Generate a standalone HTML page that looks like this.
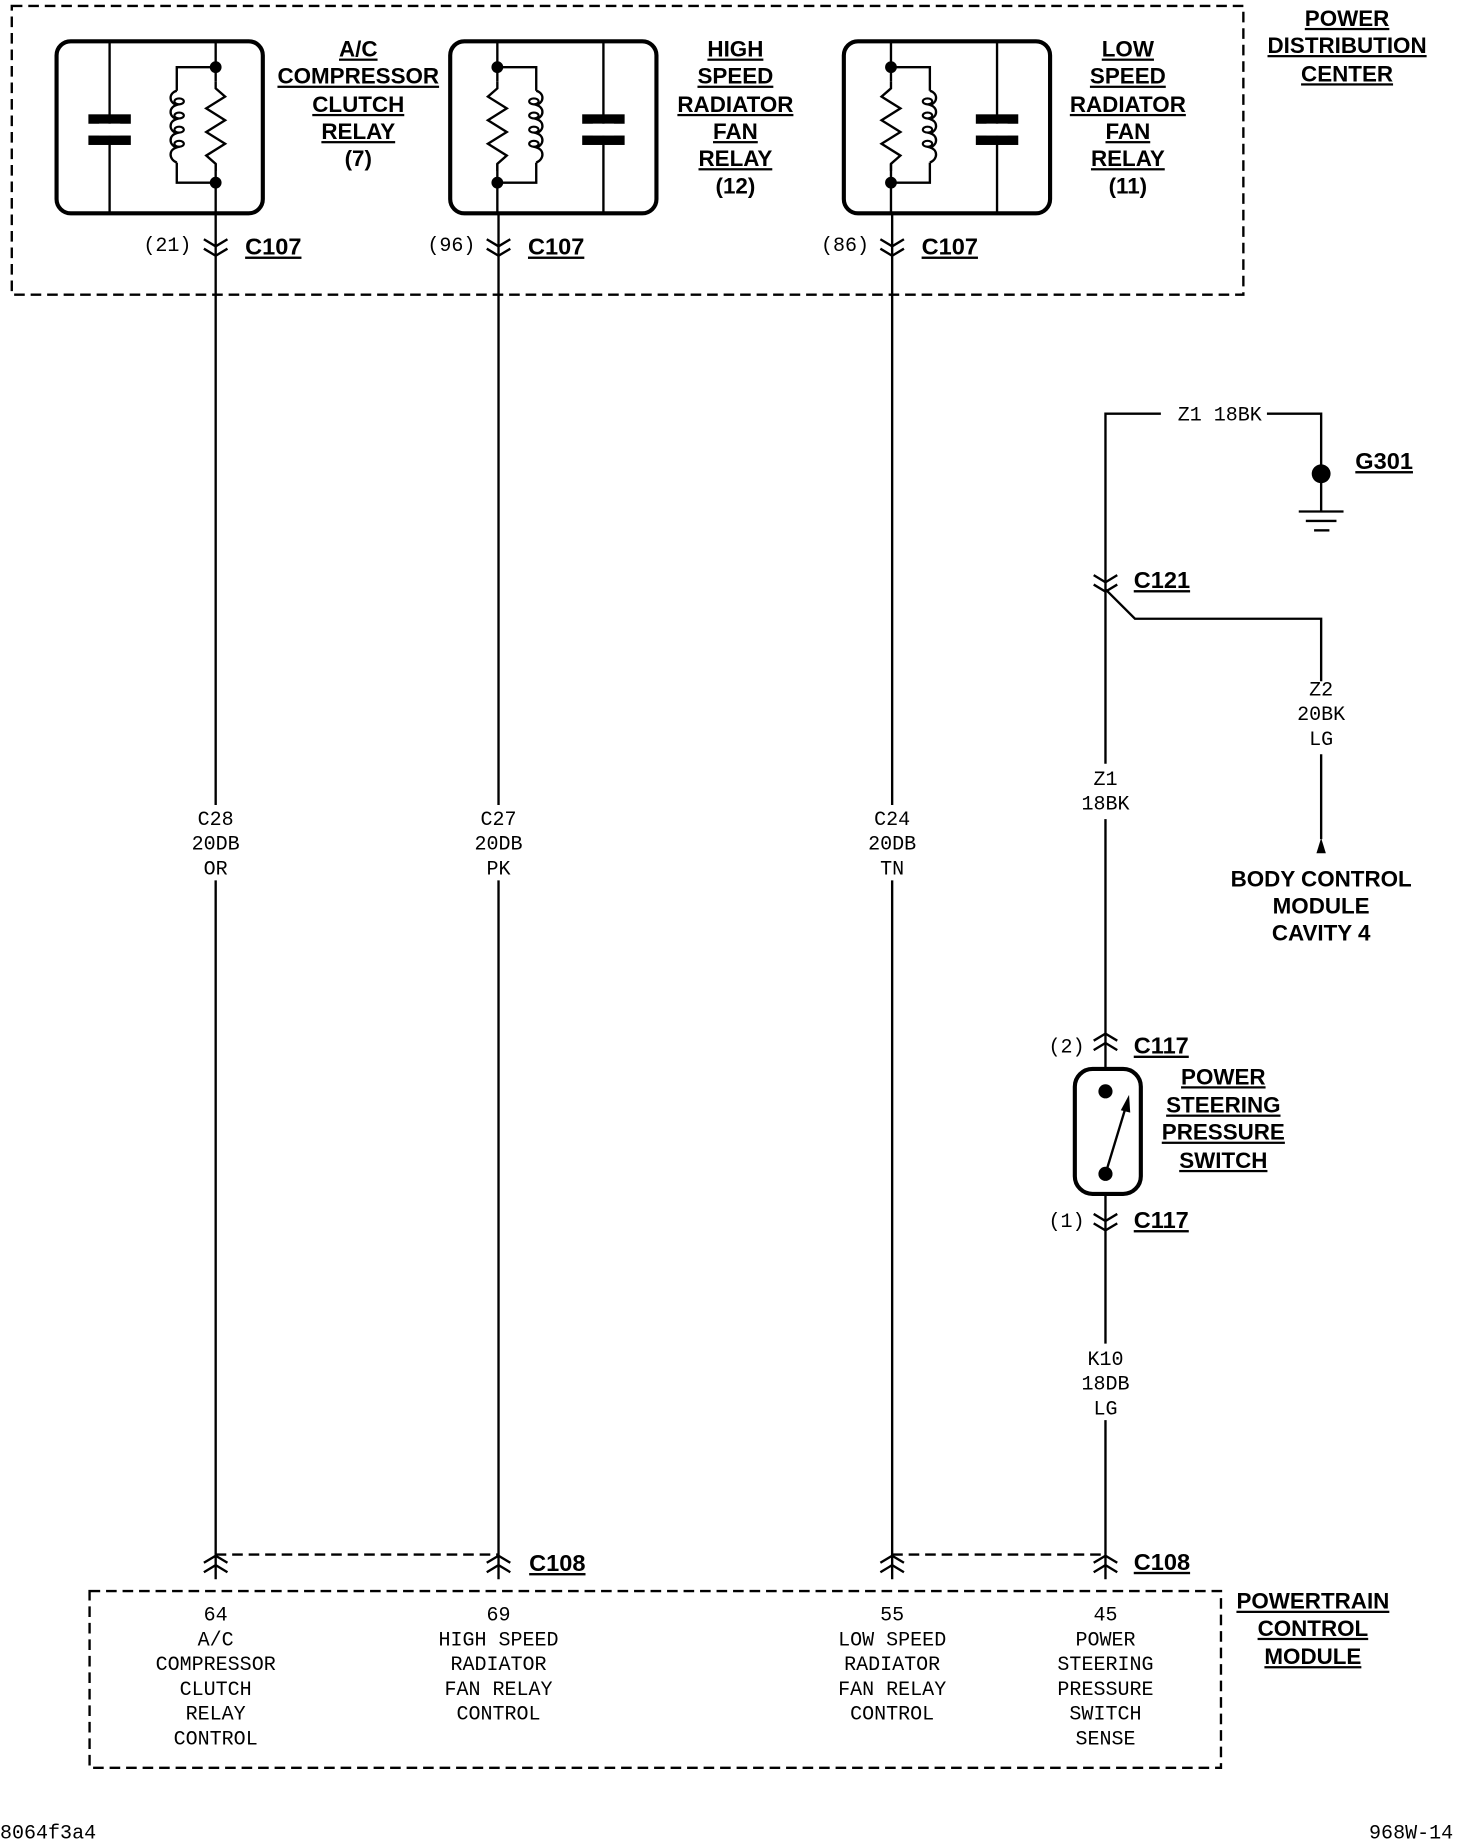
<!DOCTYPE html>
<html><head><meta charset="utf-8"><style>
html,body{margin:0;padding:0;background:#fff}
svg{display:block}
.b{font-family:"Liberation Sans Narrow","Liberation Sans",sans-serif;font-weight:bold;font-size:19px;text-anchor:middle;text-decoration:underline}
.bn{font-family:"Liberation Sans Narrow","Liberation Sans",sans-serif;font-weight:bold;font-size:19px;text-anchor:middle}
.m{font-family:"Liberation Mono",monospace;font-size:17px;text-anchor:middle}
.c{font-family:"Liberation Sans Narrow","Liberation Sans",sans-serif;font-weight:bold;font-size:20px;text-decoration:underline}
</style></head><body>
<svg width="1472" height="1848" viewBox="0 0 1249 1568" preserveAspectRatio="none" xmlns="http://www.w3.org/2000/svg">
<defs>
<g id="relay" fill="none" stroke="#000">
<rect x="0" y="0" width="175" height="146" rx="12" stroke-width="3.5"/>
<line x1="45" y1="0" x2="45" y2="146" stroke-width="2"/>
<rect x="27" y="62" width="36" height="8" fill="#000" stroke="none"/>
<rect x="27" y="80" width="36" height="8" fill="#000" stroke="none"/>
<rect x="36" y="70" width="18" height="10" fill="#fff" stroke="none"/>
<line x1="135" y1="0" x2="135" y2="146" stroke-width="2"/>
<rect x="128" y="34" width="14" height="70" fill="#fff" stroke="none"/>
<polyline points="135,34 135,40 143,47 127,57 143,67 127,77 143,87 127,97 135,104 135,110" stroke-width="2"/>
<polyline points="135,22 102,22 102,42" stroke-width="2"/>
<polyline points="135,120 102,120 102,103" stroke-width="2"/>
<path d="M102,42 C95,44 95,52 102,54 C95,56 95,64 102,66 C95,68 95,76 102,78 C95,80 95,88 102,90 C95,92 95,100 102,103" stroke-width="2"/>
<ellipse cx="104" cy="51" rx="4" ry="2.5" stroke-width="1.8"/>
<ellipse cx="104" cy="63" rx="4" ry="2.5" stroke-width="1.8"/>
<ellipse cx="104" cy="75" rx="4" ry="2.5" stroke-width="1.8"/>
<ellipse cx="104" cy="87" rx="4" ry="2.5" stroke-width="1.8"/>
<circle cx="135" cy="22" r="5" fill="#000" stroke="none"/>
<circle cx="135" cy="120" r="5" fill="#000" stroke="none"/>
</g>
<g id="vdn" fill="none" stroke="#000" stroke-width="2"><polyline points="-10,-6 0,0 10,-6"/><polyline points="-10,2 0,8 10,2"/></g>
<g id="vup" fill="none" stroke="#000" stroke-width="2"><polyline points="-10,6 0,0 10,6"/><polyline points="-10,14 0,8 10,14"/></g>
</defs>
<g fill="none" stroke="#000" stroke-width="2" stroke-dasharray="9,5">
<rect x="10" y="5" width="1045" height="245"/>
<rect x="76" y="1350" width="960" height="150"/>
<polyline points="183,1319 423,1319"/>
<polyline points="757,1319 938,1319"/>
</g>
<use href="#relay" x="48" y="35"/>
<use href="#relay" transform="translate(557,35) scale(-1,1)"/>
<use href="#relay" transform="translate(891,35) scale(-1,1)"/>
<g stroke="#000" stroke-width="2" fill="none">
<line x1="183" y1="181" x2="183" y2="683"/><line x1="183" y1="747" x2="183" y2="1340"/>
<line x1="423" y1="181" x2="423" y2="683"/><line x1="423" y1="747" x2="423" y2="1340"/>
<line x1="757" y1="181" x2="757" y2="683"/><line x1="757" y1="747" x2="757" y2="1340"/>
<polyline points="985,351 938,351 938,648"/>
<polyline points="1075,351 1121,351 1121,434"/>
<line x1="938" y1="695" x2="938" y2="907"/>
<line x1="938" y1="1013" x2="938" y2="1140"/>
<line x1="938" y1="1205" x2="938" y2="1340"/>
<polyline points="938,500 963,525 1121,525 1121,578"/>
<line x1="1121" y1="640" x2="1121" y2="712"/>
<line x1="1102" y1="434" x2="1140" y2="434"/>
<line x1="1108" y1="442" x2="1134" y2="442"/>
<line x1="1115" y1="450" x2="1128" y2="450"/>
<rect x="912" y="907" width="56" height="106" rx="15" stroke-width="3.5"/>
<line x1="938" y1="996" x2="955" y2="940"/>
</g>
<polygon points="958,929 951,942 959,944" fill="#000"/>
<polygon points="1121,711 1117,724 1125,724" fill="#000"/>
<circle cx="1121" cy="402" r="8" fill="#000"/>
<circle cx="938" cy="926" r="6" fill="#000"/>
<circle cx="938" cy="996" r="6" fill="#000"/>
<use href="#vdn" x="183" y="209"/><use href="#vdn" x="423" y="209"/><use href="#vdn" x="757" y="209"/>
<use href="#vdn" x="938" y="494"/><use href="#vdn" x="938" y="1036"/>
<use href="#vup" x="938" y="877"/>
<use href="#vup" x="183" y="1320"/><use href="#vup" x="423" y="1320"/><use href="#vup" x="757" y="1320"/><use href="#vup" x="938" y="1320"/>
<g class="b">
<text x="304" y="48">A/C</text><text x="304" y="71">COMPRESSOR</text><text x="304" y="95">CLUTCH</text><text x="304" y="118">RELAY</text>
<text x="624" y="48">HIGH</text><text x="624" y="71">SPEED</text><text x="624" y="95">RADIATOR</text><text x="624" y="118">FAN</text><text x="624" y="141">RELAY</text>
<text x="957" y="48">LOW</text><text x="957" y="71">SPEED</text><text x="957" y="95">RADIATOR</text><text x="957" y="118">FAN</text><text x="957" y="141">RELAY</text>
<text x="1143" y="22">POWER</text><text x="1143" y="45">DISTRIBUTION</text><text x="1143" y="69">CENTER</text>
<text x="1038" y="920">POWER</text><text x="1038" y="944">STEERING</text><text x="1038" y="967">PRESSURE</text><text x="1038" y="991">SWITCH</text>
<text x="1114" y="1365">POWERTRAIN</text><text x="1114" y="1388">CONTROL</text><text x="1114" y="1412">MODULE</text>
</g>
<g class="bn">
<text x="304" y="141">(7)</text><text x="624" y="164">(12)</text><text x="957" y="164">(11)</text>
<text x="1121" y="752">BODY CONTROL</text><text x="1121" y="775">MODULE</text><text x="1121" y="798">CAVITY 4</text>
</g>
<g class="c">
<text x="208" y="216">C107</text><text x="448" y="216">C107</text><text x="782" y="216">C107</text>
<text x="1150" y="398">G301</text><text x="962" y="499">C121</text>
<text x="962" y="894">C117</text><text x="962" y="1042">C117</text>
<text x="449" y="1333">C108</text><text x="962" y="1332">C108</text>
</g>
<g class="m">
<text x="142" y="213">(21)</text><text x="383" y="213">(96)</text><text x="717" y="213">(86)</text>
<text x="905" y="893">(2)</text><text x="905" y="1041">(1)</text>
<text x="1035" y="357">Z1 18BK</text>
<text x="183" y="700">C28</text><text x="183" y="721">20DB</text><text x="183" y="742">OR</text>
<text x="423" y="700">C27</text><text x="423" y="721">20DB</text><text x="423" y="742">PK</text>
<text x="757" y="700">C24</text><text x="757" y="721">20DB</text><text x="757" y="742">TN</text>
<text x="1121" y="590">Z2</text><text x="1121" y="611">20BK</text><text x="1121" y="632">LG</text>
<text x="938" y="666">Z1</text><text x="938" y="687">18BK</text>
<text x="938" y="1158">K10</text><text x="938" y="1179">18DB</text><text x="938" y="1200">LG</text>
<text x="183" y="1375">64</text><text x="183" y="1396">A/C</text><text x="183" y="1417">COMPRESSOR</text><text x="183" y="1438">CLUTCH</text><text x="183" y="1459">RELAY</text><text x="183" y="1480">CONTROL</text>
<text x="423" y="1375">69</text><text x="423" y="1396">HIGH SPEED</text><text x="423" y="1417">RADIATOR</text><text x="423" y="1438">FAN RELAY</text><text x="423" y="1459">CONTROL</text>
<text x="757" y="1375">55</text><text x="757" y="1396">LOW SPEED</text><text x="757" y="1417">RADIATOR</text><text x="757" y="1438">FAN RELAY</text><text x="757" y="1459">CONTROL</text>
<text x="938" y="1375">45</text><text x="938" y="1396">POWER</text><text x="938" y="1417">STEERING</text><text x="938" y="1438">PRESSURE</text><text x="938" y="1459">SWITCH</text><text x="938" y="1480">SENSE</text>
<text x="0" y="1560" text-anchor="start">8064f3a4</text>
<text x="1233" y="1560" text-anchor="end">968W-14</text>
</g>
</svg>
</body></html>
